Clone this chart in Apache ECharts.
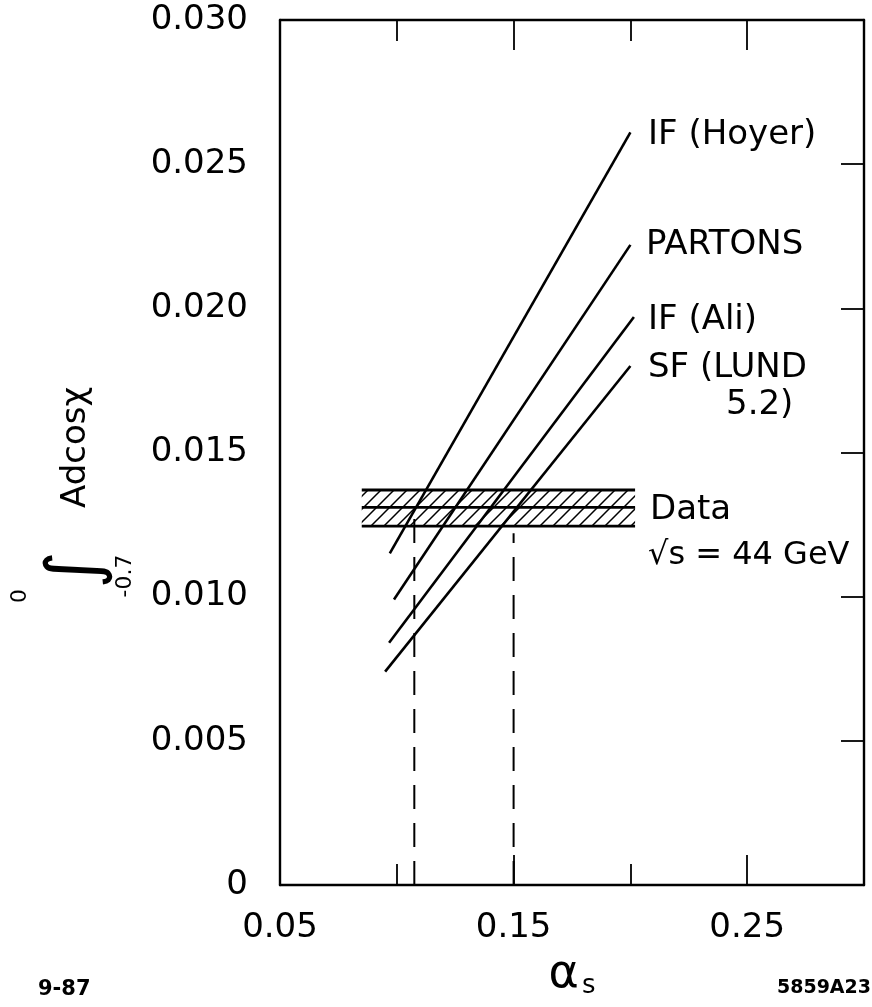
<!DOCTYPE html>
<html>
<head>
<meta charset="utf-8">
<title>Asymmetry integral vs alpha_s</title>
<script src="https://cdn.jsdelivr.net/npm/echarts@6/dist/echarts.min.js"></script>
<style>
  html, body { margin: 0; padding: 0; background: #fff; }
  #chart { width: 872px; height: 1007px; }
</style>
</head>
<body>
<div id="chart"></div>
<script>
// tick positions on the alpha_s axis
const xTicksShort = [0.10, 0.20]
const xTicksLong = [0.15, 0.25]
const xLabels = [0.05, 0.15, 0.25]

// model predictions, [alpha_s, integral] at both ends of each line
const ifHoyer = [[0.097, 0.0115], [0.200, 0.0261]]
const partons = [[0.0988, 0.0099], [0.200, 0.0222]]
const ifAli = [[0.0967, 0.0084], [0.2015, 0.0197]]
const sfLund = [[0.095, 0.0074], [0.200, 0.0180]]

// measurement and its error band
const dataRange = [0.085, 0.202]
const dataValue = 0.0131
const dataLow = 0.01245
const dataHigh = 0.0137

const cutLeft = [[0.1075, 0], [0.1075, 0.0130]]
const cutRight = [[0.150, 0], [0.150, 0.0122]]

const FONT = 'DejaVu Sans'

function makeHatch() {
  const c = document.createElement('canvas')
  c.width = 13
  c.height = 13
  const g = c.getContext('2d')
  g.strokeStyle = '#000'
  g.lineWidth = 1.5
  g.beginPath()
  g.moveTo(0, 13); g.lineTo(13, 0)
  g.moveTo(-7, 7); g.lineTo(7, -7)
  g.moveTo(6, 20); g.lineTo(20, 6)
  g.stroke()
  return c
}
const hatch = { image: makeHatch(), repeat: 'repeat' }

const xBase = { type: 'value', min: 0.05, max: 0.30, interval: 0.05, splitLine: { show: false } }
const blackLine = { show: true, lineStyle: { color: '#000', width: 2.4 } }

function modelLine(name, data) {
  return {
    name: name,
    type: 'line',
    data: data,
    symbol: 'none',
    lineStyle: { color: '#000', width: 2.6 },
    z: 5,
  }
}

function flatLine(y) {
  return {
    type: 'line',
    data: [[dataRange[0], y], [dataRange[1], y]],
    symbol: 'none',
    lineStyle: { color: '#000', width: 2.8 },
    z: 4,
  }
}

function cutLine(data) {
  return {
    type: 'line',
    data: data,
    symbol: 'none',
    lineStyle: { color: '#000', width: 2, type: [24, 14] },
    z: 3,
  }
}

function label(text, x, y, size) {
  return {
    type: 'text',
    x: x,
    y: y,
    style: {
      text: text,
      fill: '#000',
      font: (size || 34) + 'px "' + FONT + '"',
      textVerticalAlign: 'middle',
    },
  }
}

const myChart = echarts.init(document.getElementById('chart'))
const option = {
  backgroundColor: '#fff',
  animation: false,
  grid: { left: 280, right: 8, top: 20, bottom: 122, containLabel: false, outerBoundsMode: 'none' },
  xAxis: [
    Object.assign({}, xBase, {
      position: 'bottom',
      axisLine: blackLine,
      axisTick: { show: true, inside: true, length: 21, customValues: xTicksShort, lineStyle: { color: '#000', width: 1.8 } },
      axisLabel: {
        customValues: xLabels,
        formatter: (v) => v.toFixed(2),
        fontSize: 34,
        fontFamily: FONT,
        color: '#000',
        margin: 26,
      },
      name: '{a|α}{s|s}',
      nameLocation: 'middle',
      nameGap: 66,
      nameTextStyle: {
        rich: {
          a: { fontSize: 46, fontFamily: FONT, color: '#000' },
          s: { fontSize: 26, fontFamily: FONT, color: '#000', padding: [22, 0, 0, 3] },
        },
      },
    }),
    Object.assign({}, xBase, {
      position: 'bottom',
      axisLine: { show: false },
      axisTick: { show: true, inside: true, length: 30, customValues: xTicksLong, lineStyle: { color: '#000', width: 1.8 } },
      axisLabel: { show: false },
    }),
    Object.assign({}, xBase, {
      position: 'top',
      axisLine: blackLine,
      axisTick: { show: true, inside: true, length: 21, customValues: xTicksShort, lineStyle: { color: '#000', width: 1.8 } },
      axisLabel: { show: false },
    }),
    Object.assign({}, xBase, {
      position: 'top',
      axisLine: { show: false },
      axisTick: { show: true, inside: true, length: 30, customValues: xTicksLong, lineStyle: { color: '#000', width: 1.8 } },
      axisLabel: { show: false },
    }),
  ],
  yAxis: [
    {
      type: 'value',
      min: 0,
      max: 0.030,
      interval: 0.005,
      position: 'left',
      splitLine: { show: false },
      axisLine: blackLine,
      axisTick: { show: false },
      axisLabel: {
        formatter: (v) => (v === 0 ? '0' : v.toFixed(3)),
        fontSize: 34,
        fontFamily: FONT,
        color: '#000',
        margin: 32,
      },
    },
    {
      type: 'value',
      min: 0,
      max: 0.030,
      interval: 0.005,
      position: 'right',
      splitLine: { show: false },
      axisLine: blackLine,
      axisTick: { show: true, inside: true, length: 23, lineStyle: { color: '#000', width: 1.8 } },
      axisLabel: { show: false },
    },
  ],
  graphic: [
    label('IF (Hoyer)', 648, 135),
    label('PARTONS', 646, 245),
    label('IF (Ali)', 648, 320),
    label('SF (LUND', 648, 368),
    label('5.2)', 726, 405),
    label('Data', 650, 510),
    label('√s = 44 GeV', 648, 556, 32),
    {
      type: 'group',
      x: 78,
      y: 570,
      rotation: Math.PI / 2,
      children: [
        { type: 'text', x: 0, y: 0, style: { text: '∫', fill: '#000', font: '72px "' + FONT + '"', textAlign: 'center', textVerticalAlign: 'middle' } },
        { type: 'text', x: -26, y: -58, style: { text: '0', fill: '#000', font: '22px "' + FONT + '"', textAlign: 'center', textVerticalAlign: 'middle' } },
        { type: 'text', x: -6, y: 47, style: { text: '-0.7', fill: '#000', font: '22px "' + FONT + '"', textAlign: 'center', textVerticalAlign: 'middle' } },
        { type: 'text', x: 62, y: -2, style: { text: 'Adcosχ', fill: '#000', font: '34px "' + FONT + '"', textVerticalAlign: 'middle' } },
      ],
    },
    { type: 'text', x: 38, y: 990, style: { text: '9-87', fill: '#000', font: 'bold 21px "' + FONT + '"', textVerticalAlign: 'middle' } },
    { type: 'text', x: 871, y: 988, style: { text: '5859A23', fill: '#000', font: 'bold 19px "' + FONT + '"', textAlign: 'right', textVerticalAlign: 'middle' } },
  ],
  series: [
    {
      type: 'custom',
      renderItem: (params, api) => {
        const p0 = api.coord([api.value(0), api.value(3)])
        const p1 = api.coord([api.value(1), api.value(2)])
        return {
          type: 'rect',
          shape: { x: p0[0], y: p0[1], width: p1[0] - p0[0], height: p1[1] - p0[1] },
          style: { fill: hatch, stroke: null },
        }
      },
      data: [[dataRange[0], dataRange[1], dataLow, dataHigh]],
      encode: { x: [0, 1], y: [2, 3] },
      z: 2,
    },
    flatLine(dataHigh),
    flatLine(dataValue),
    flatLine(dataLow),
    cutLine(cutLeft),
    cutLine(cutRight),
    modelLine('IF (Hoyer)', ifHoyer),
    modelLine('PARTONS', partons),
    modelLine('IF (Ali)', ifAli),
    modelLine('SF (LUND 5.2)', sfLund),
  ],
}
myChart.setOption(option)
</script>
</body>
</html>
